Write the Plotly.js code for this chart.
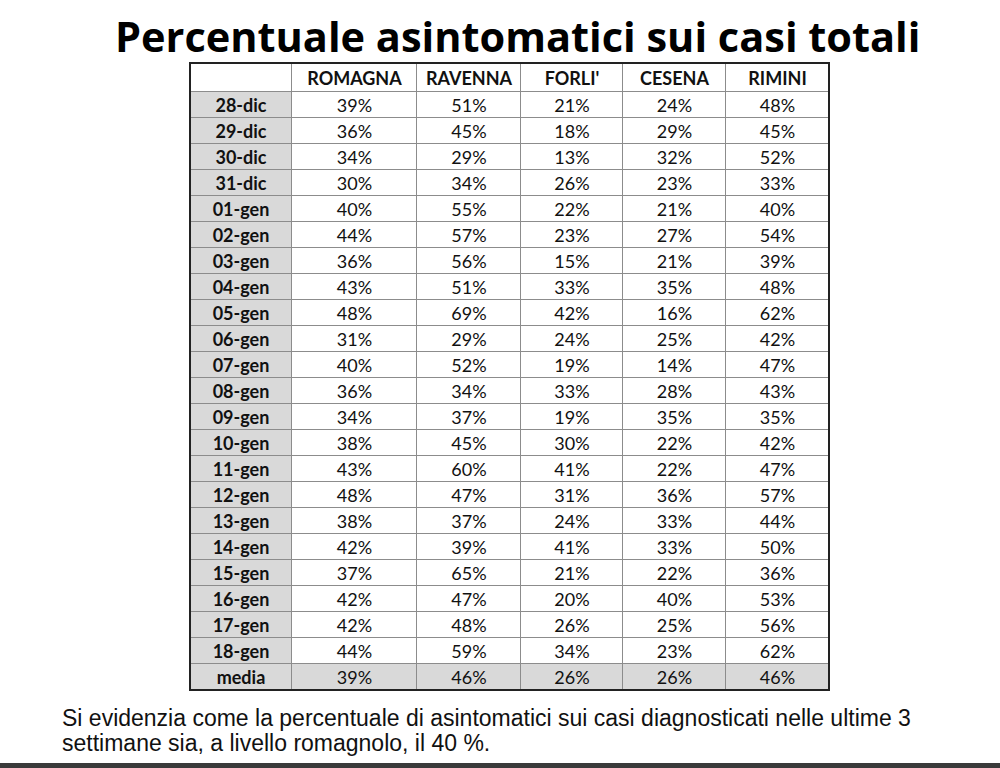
<!DOCTYPE html>
<html>
<head>
<meta charset="utf-8">
<script src="https://cdn.plot.ly/plotly-3.0.1.min.js"></script>
<style>
  body { margin: 0; background: #fff; }
  #chart { width: 1000px; height: 768px; }
</style>
</head>
<body>
<div id="chart"></div>
<script>
// data
var columns = ['', 'ROMAGNA', 'RAVENNA', "FORLI'", 'CESENA', 'RIMINI'];
var days = ['28-dic','29-dic','30-dic','31-dic','01-gen','02-gen','03-gen','04-gen','05-gen','06-gen','07-gen',
            '08-gen','09-gen','10-gen','11-gen','12-gen','13-gen','14-gen','15-gen','16-gen','17-gen','18-gen'];
var romagna = [39,36,34,30,40,44,36,43,48,31,40,36,34,38,43,48,38,42,37,42,42,44];
var ravenna = [51,45,29,34,55,57,56,51,69,29,52,34,37,45,60,47,37,39,65,47,48,59];
var forli   = [21,18,13,26,22,23,15,33,42,24,19,33,19,30,41,31,24,41,21,20,26,34];
var cesena  = [24,29,32,23,21,27,21,35,16,25,14,28,35,22,22,36,33,33,22,40,25,23];
var rimini  = [48,45,52,33,40,54,39,48,62,42,47,43,35,42,47,57,44,50,36,53,56,62];
var media   = [39,46,26,26,46];

// table geometry (px-like units)
var colW = [102, 125, 104, 102, 103, 103];
var headH = 29, rowH = 26;
var textDrop = 2.5; // text sits a bit below the cell middle on the slide

var rowLabels = days.concat(['media']);
var series = [romagna, ravenna, forli, cesena, rimini].map(function (s, i) {
  return s.concat([media[i]]);
});
var nRows = rowLabels.length;

var xEdges = [0];
colW.forEach(function (w, i) { xEdges.push(xEdges[i] + w); });
var yEdges = [0, headH];
for (var r = 0; r < nRows; r++) yEdges.push(yEdges[r + 1] + rowH);
var xMid = colW.map(function (w, i) { return xEdges[i] + w / 2; });
var yMid = yEdges.slice(0, -1).map(function (e, i) { return (e + yEdges[i + 1]) / 2 + textDrop; });
var yMax = yEdges[yEdges.length - 1];

// cell shading: 1 = grey, 0 = white
var z = [colW.map(function () { return 0; })];
for (var r = 0; r < nRows; r++) {
  z.push(colW.map(function (w, c) { return (c === 0 || r === nRows - 1) ? 1 : 0; }));
}

var cells = {
  type: 'heatmap', x: xEdges, y: yEdges, z: z,
  colorscale: [[0, '#ffffff'], [1, '#d9d9d9']], zmin: 0, zmax: 1,
  showscale: false, xgap: 1, ygap: 1, hoverinfo: 'skip'
};

var headText = {
  type: 'scatter', mode: 'text',
  x: xMid.slice(1), y: columns.slice(1).map(function () { return yMid[0]; }),
  text: columns.slice(1),
  textfont: { family: 'Lato, sans-serif', size: 18, color: '#111', weight: 'bold' },
  hoverinfo: 'skip'
};

var labelText = {
  type: 'scatter', mode: 'text',
  x: rowLabels.map(function () { return xMid[0]; }), y: yMid.slice(1),
  text: rowLabels,
  textfont: { family: 'Lato, sans-serif', size: 18, color: '#111', weight: 'bold' },
  hoverinfo: 'skip'
};

var vx = [], vy = [], vt = [];
series.forEach(function (s, c) {
  s.forEach(function (v, r) {
    vx.push(xMid[c + 1]); vy.push(yMid[r + 1]); vt.push(v + '%');
  });
});
var valueText = {
  type: 'scatter', mode: 'text', x: vx, y: vy, text: vt,
  textfont: { family: 'Lato, sans-serif', size: 18, color: '#111' },
  hoverinfo: 'skip'
};

var layout = {
  width: 1000,
  height: 768,
  margin: { l: 190, r: 171, t: 63, b: 78, pad: 0 },
  paper_bgcolor: '#ffffff',
  plot_bgcolor: '#8c8c8c',
  showlegend: false,
  xaxis: { range: [0, xEdges[xEdges.length - 1]], visible: false, fixedrange: true },
  yaxis: { range: [yMax, 0], visible: false, fixedrange: true },
  annotations: [
    {
      text: '<b>Percentuale asintomatici sui casi totali</b>',
      xref: 'paper', yref: 'paper', x: (517 - 190) / 639, y: 1 + (63 - 36) / yMax,
      xanchor: 'center', yanchor: 'middle', showarrow: false,
      font: { family: 'Open Sans, sans-serif', size: 41.5, color: '#000' }
    },
    {
      text: 'Si evidenzia come la percentuale di asintomatici sui casi diagnosticati nelle ultime 3',
      xref: 'paper', yref: 'paper', x: (60 - 190) / 639, y: -(718 - 690) / yMax,
      xanchor: 'left', yanchor: 'middle', showarrow: false,
      font: { family: 'Liberation Sans, Arial, sans-serif', size: 23, color: '#111' }
    },
    {
      text: 'settimane sia, a livello romagnolo, il 40 %.',
      xref: 'paper', yref: 'paper', x: (60 - 190) / 639, y: -(743 - 690) / yMax,
      xanchor: 'left', yanchor: 'middle', showarrow: false,
      font: { family: 'Liberation Sans, Arial, sans-serif', size: 23, color: '#111' }
    }
  ],
  shapes: [
    { type: 'rect', xref: 'paper', yref: 'paper', x0: 0, x1: 1, y0: 0, y1: 1,
      line: { color: '#222', width: 2 }, fillcolor: 'rgba(0,0,0,0)' },
    { type: 'rect', xref: 'paper', yref: 'paper', x0: -190 / 639, x1: 1 + 171 / 639,
      y0: -78 / yMax, y1: -(763 - 690) / yMax, line: { width: 0 }, fillcolor: '#3a3a3a' }
  ]
};

Plotly.newPlot('chart', [cells, headText, labelText, valueText], layout,
  { displayModeBar: false, staticPlot: true });
</script>
</body>
</html>
